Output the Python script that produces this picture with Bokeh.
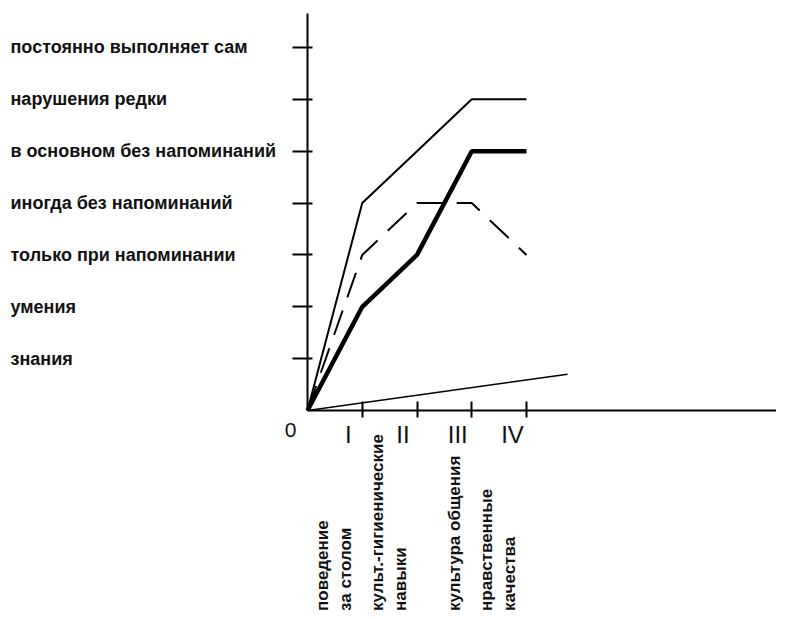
import math
from bokeh.plotting import figure
from bokeh.models import LinearAxis, FixedTicker, Range1d, ColumnDataSource
from bokeh.core.properties import value
from bokeh.embed import file_html
from bokeh.resources import INLINE

# ---- data ----
level_labels = ["знания", "умения", "только при напоминании", "иногда без напоминаний",
                "в основном без напоминаний", "нарушения редки", "постоянно выполняет сам"]
level_values = [1, 2, 3, 4, 5, 6, 7]
stage_labels = ["0", "I", "II", "III", "IV"]
stage_values = [0, 1, 2, 3, 4]
categories = ["поведение\nза столом", "культ.-гигиенические\nнавыки", "культура общения",
              "нравственные\nкачества"]
category_x = [1, 2, 3, 4]
series_thin = [0, 4, 5, 6, 6]
series_thick = [0, 2, 3, 5, 5]
series_dashed = [0, 3, 4, 4, 3]
base_x = [0, 4.75]
base_y = [0, 0.7]

# ---- layout ----
W, H = 776, 611
ox, oy = 307, 410          # canvas position of the origin
px_x, px_y = 54.75, 51.86  # pixels per unit
x0, x1 = -ox / px_x, (W - ox) / px_x
y0, y1 = -(H - oy) / px_y, oy / px_y

p = figure(width=W, height=H, output_backend="svg", toolbar_location=None,
           x_axis_type=None, y_axis_type=None, min_border=0,
           x_range=Range1d(x0, x1), y_range=Range1d(y0, y1))
p.outline_line_color = None
p.background_fill_color = "white"
p.border_fill_color = "white"
p.xgrid.visible = False
p.ygrid.visible = False

yax = LinearAxis(fixed_location=0, bounds=(0, 7.65), ticker=FixedTicker(ticks=level_values),
                 major_label_overrides={v: "" for v in level_values})
yax.axis_line_width = 2
yax.major_tick_line_width = 2
yax.major_tick_out = 15
yax.major_tick_in = 5
yax.minor_tick_line_color = None
yax.major_label_text_font_size = "1px"
p.add_layout(yax, "left")

xax = LinearAxis(fixed_location=0, bounds=(0, x1), ticker=FixedTicker(ticks=category_x),
                 major_label_overrides={v: "" for v in category_x})
xax.axis_line_width = 2
xax.major_tick_line_width = 2
xax.major_tick_out = 7
xax.major_tick_in = 9
xax.minor_tick_line_color = None
xax.major_label_text_font_size = "1px"
p.add_layout(xax, "below")

stages = list(range(len(series_thin)))
p.line(base_x, base_y, line_color="black", line_width=1.5)
p.line(stages, series_thin, line_color="black", line_width=2)
p.line(stages, series_dashed, line_color="black", line_width=2, line_dash="26 14")
p.line(stages, series_thick, line_color="black", line_width=4.5)

# level labels (left)
p.text(x=[x0 + 10 / px_x] * len(level_values), y=level_values, text=level_labels,
       text_font=value("Liberation Sans"), text_font_style="bold", text_font_size="18px",
       text_align="left", text_baseline="middle", text_color="#111111")

# stage labels under the axis
stage_src = ColumnDataSource(dict(
    x=stage_values, y=[0] * len(stage_values), text=stage_labels,
    size=["21px" if s == "0" else "24px" for s in stage_labels],
    xo=[-17 if s == "0" else -14 for s in stage_labels],
    yo=[19 if s == "0" else 24 for s in stage_labels]))
p.text(x="x", y="y", text="text", source=stage_src,
       x_offset="xo", y_offset="yo", text_font_size="size",
       text_font=value("Liberation Sans"),
       text_align="center", text_baseline="middle", text_color="#111111")

# rotated category labels
lx, ly, lt, lo = [], [], [], []
for cx, cat in zip(category_x, categories):
    lines = cat.split("\n")
    n = len(lines)
    for j, ln in enumerate(lines):
        lx.append(cx)
        ly.append(y0 + 0.5 / px_y)
        lt.append(ln)
        lo.append(-17 - (n - 1 - j) * 23)
src = ColumnDataSource(dict(x=lx, y=ly, text=lt, xo=lo))
p.text(x="x", y="y", text="text", x_offset="xo", source=src, angle=math.pi / 2,
       text_font=value("Liberation Sans"), text_font_style="bold", text_font_size="17px",
       text_align="left", text_baseline="middle", text_color="#111111")

open("out.html", "w").write(file_html(p, INLINE))
